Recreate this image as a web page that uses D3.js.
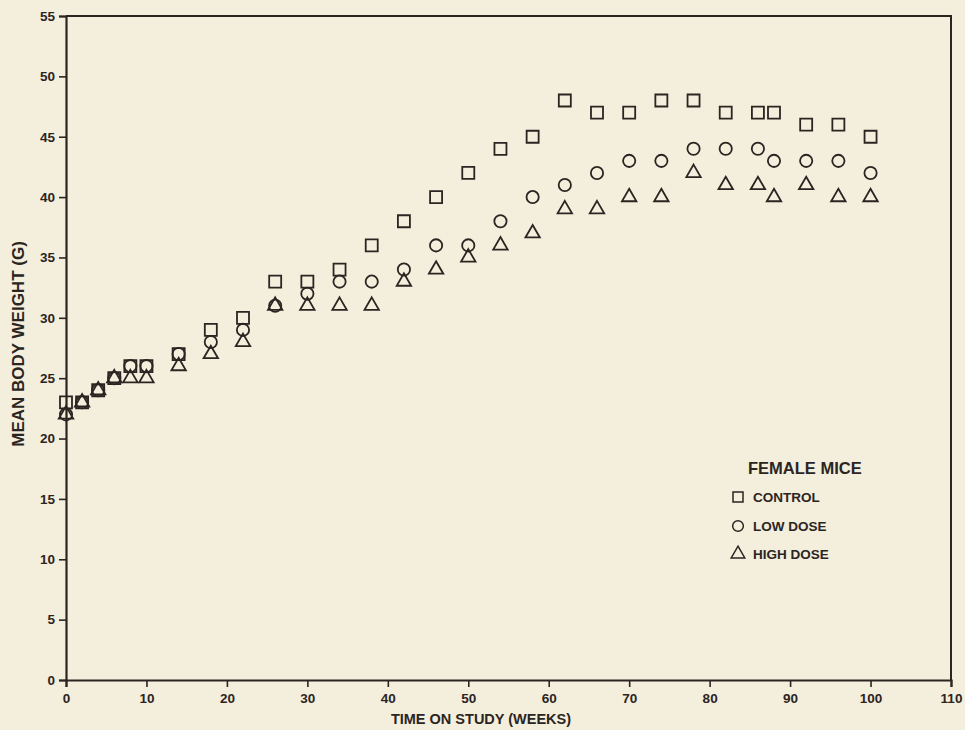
<!DOCTYPE html>
<html>
<head>
<meta charset="utf-8">
<script src="https://cdn.jsdelivr.net/npm/d3@7/dist/d3.min.js"></script>
<style>
  html, body { margin: 0; padding: 0; background: #f4eedd; }
  svg { display: block; }
  text { font-family: "Liberation Sans", Arial, sans-serif; font-weight: bold; fill: #2b2522; }
</style>
</head>
<body>
<svg id="chart" width="965" height="730"></svg>
<script>
// Mean body weight of female mice over time, by dose group
const weeks    = [0, 2, 4, 6, 8, 10, 14, 18, 22, 26, 30, 34, 38, 42, 46, 50, 54, 58, 62, 66, 70, 74, 78, 82, 86, 88, 92, 96, 100];
const control  = [23, 23, 24, 25, 26, 26, 27, 29, 30, 33, 33, 34, 36, 38, 40, 42, 44, 45, 48, 47, 47, 48, 48, 47, 47, 47, 46, 46, 45];
const lowDose  = [22, 23, 24, 25, 26, 26, 27, 28, 29, 31, 32, 33, 33, 34, 36, 36, 38, 40, 41, 42, 43, 43, 44, 44, 44, 43, 43, 43, 42];
const highDose = [22, 23, 24, 25, 25, 25, 26, 27, 28, 31, 31, 31, 31, 33, 34, 35, 36, 37, 39, 39, 40, 40, 42, 41, 41, 40, 41, 40, 40];

const xTicks = [0, 10, 20, 30, 40, 50, 60, 70, 80, 90, 100, 110];
const yTicks = [0, 5, 10, 15, 20, 25, 30, 35, 40, 45, 50, 55];

const seriesNames = ["CONTROL", "LOW DOSE", "HIGH DOSE"];
const legendTitle = "FEMALE MICE";
const xTitle = "TIME ON STUDY (WEEKS)";
const yTitle = "MEAN BODY WEIGHT (G)";

const ink = "#2b2522";
const svg = d3.select("#chart");

const plotL = 66, plotR = 951, plotT = 16, plotB = 680;
const x = d3.scaleLinear().domain([0, 110]).range([plotL, plotR]);
const y = d3.scaleLinear().domain([0, 55]).range([plotB, plotT]);

// frame (top and right edges)
svg.append("path")
  .attr("d", `M${plotL},${plotT}H${plotR}V${plotB}`)
  .attr("fill", "none").attr("stroke", ink).attr("stroke-width", 2);

// axes
const xAxis = svg.append("g").attr("transform", `translate(0,${plotB})`)
  .call(d3.axisBottom(x).tickValues(xTicks).tickSizeOuter(0).tickSize(7).tickPadding(6));
const yAxis = svg.append("g").attr("transform", `translate(${plotL},0)`)
  .call(d3.axisLeft(y).tickValues(yTicks).tickSizeOuter(0).tickSize(7).tickPadding(4));

[xAxis, yAxis].forEach(g => {
  g.attr("font-size", null).attr("font-family", null);
  g.select(".domain").attr("stroke", ink).attr("stroke-width", 2.2);
  g.selectAll(".tick line").attr("stroke", ink).attr("stroke-width", 1.6);
  g.selectAll(".tick text")
    .attr("fill", ink)
    .style("font-family", '"Liberation Sans", Arial, sans-serif')
    .style("font-weight", "bold")
    .style("font-size", "13.5px");
});

// axis titles
svg.append("text")
  .attr("x", 481).attr("y", 724)
  .attr("text-anchor", "middle")
  .style("font-size", "14.5px")
  .text(xTitle);

svg.append("text")
  .attr("transform", "translate(24,344) rotate(-90)")
  .attr("text-anchor", "middle")
  .style("font-size", "17px")
  .text(yTitle);

// markers
const shapes = [d3.symbolSquare, d3.symbolCircle, d3.symbolTriangle];
const sizes  = [144, 118, 90];
const values = [control, lowDose, highDose];

values.forEach((vals, i) => {
  const sym = d3.symbol().type(shapes[i]).size(sizes[i]);
  svg.append("g")
    .selectAll("path")
    .data(weeks.map((w, j) => ({ w, v: vals[j] })))
    .join("path")
    .attr("d", sym)
    .attr("transform", d => `translate(${x(d.w)},${y(d.v)})`)
    .attr("fill", "none")
    .attr("stroke", ink)
    .attr("stroke-width", 1.8);
});

// legend
svg.append("text")
  .attr("x", 748).attr("y", 474)
  .style("font-size", "16.5px")
  .text(legendTitle);

const legendY = [497, 526, 554];
const legendSizes = [100, 90, 80];
seriesNames.forEach((name, i) => {
  svg.append("path")
    .attr("d", d3.symbol().type(shapes[i]).size(legendSizes[i]))
    .attr("transform", `translate(738,${legendY[i]})`)
    .attr("fill", "none").attr("stroke", ink).attr("stroke-width", 1.5);
  svg.append("text")
    .attr("x", 753).attr("y", legendY[i] + 5)
    .style("font-size", "13.5px")
    .text(name);
});
</script>
</body>
</html>
